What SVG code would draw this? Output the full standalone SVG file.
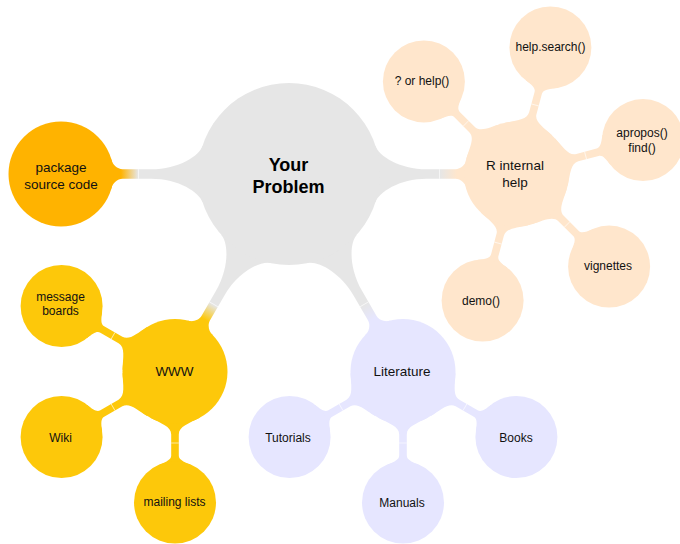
<svg xmlns="http://www.w3.org/2000/svg" xmlns:xlink="http://www.w3.org/1999/xlink" width="680" height="544" viewBox="0 0 680 544">
  <style>
    .t0 { font-family: "Liberation Sans", Arial, sans-serif; font-size: 18px; font-weight: bold; fill: #000; text-anchor: middle; }
    .t1 { font-family: "Liberation Sans", Arial, sans-serif; font-size: 13.5px; fill: #111; text-anchor: middle; }
    .t2 { font-family: "Liberation Sans", Arial, sans-serif; font-size: 12px; fill: #111; text-anchor: middle; }
    .seam { stroke: #fff; stroke-width: 0.7; stroke-opacity: 0.85; }
    .grey { fill: #E6E6E6; }
    .orange { fill: #FFB300; }
    .yellow { fill: #FDC80A; }
    .peach { fill: #FFE6CC; }
    .lav { fill: #E6E6FF; }
  </style>
  <defs>
    <!-- bar from the root (r=91) to a first-level node (r=52.5), drawn along +x -->
    <path id="bar1" d="M0 0 L86.55 -28.12 C89.6 -18.6 110 -4.8 138 -4.8 L166.5 -4.8 C171.5 -4.8 176.7 -9.4 177.53 -14.47 L228 0 L177.53 14.47 C176.7 9.4 171.5 4.8 166.5 4.8 L138 4.8 C110 4.8 89.6 18.6 86.55 28.12 Z"/>
    <!-- bar from a first-level node (r=52.5) to a leaf (r=41) -->
    <path id="bar2" d="M0 0 L46.35 -24.65 C51.98 -14.05 55 -3.8 63 -3.8 L84 -3.8 C88 -3.8 89.99 -7.94 92.99 -15.36 L131 0 L92.99 15.36 C89.99 7.94 88 3.8 84 3.8 L63 3.8 C55 3.8 51.98 14.05 46.35 24.65 Z"/>
    <linearGradient id="gOrange" gradientUnits="userSpaceOnUse" x1="151" y1="0" x2="168" y2="0">
      <stop offset="0" stop-color="#E6E6E6"/><stop offset="1" stop-color="#FFB300"/>
    </linearGradient>
    <linearGradient id="gPeach" gradientUnits="userSpaceOnUse" x1="151" y1="0" x2="168" y2="0">
      <stop offset="0" stop-color="#E6E6E6"/><stop offset="1" stop-color="#FFE6CC"/>
    </linearGradient>
    <linearGradient id="gYellow" gradientUnits="userSpaceOnUse" x1="151" y1="0" x2="168" y2="0">
      <stop offset="0" stop-color="#E6E6E6"/><stop offset="1" stop-color="#FDC80A"/>
    </linearGradient>
    <linearGradient id="gLav" gradientUnits="userSpaceOnUse" x1="151" y1="0" x2="168" y2="0">
      <stop offset="0" stop-color="#E6E6E6"/><stop offset="1" stop-color="#E6E6FF"/>
    </linearGradient>
  </defs>

  <g id="connectors">
    <!-- root to first level -->
    <g transform="translate(289 174) rotate(180)"><use xlink:href="#bar1" fill="url(#gOrange)"/><line class="seam" x1="150.5" y1="-4.8" x2="150.5" y2="4.8"/></g>
    <g transform="translate(289 174)"><use xlink:href="#bar1" fill="url(#gPeach)"/><line class="seam" x1="150.5" y1="-4.8" x2="150.5" y2="4.8"/></g>
    <g transform="translate(289 174) rotate(120)"><use xlink:href="#bar1" fill="url(#gYellow)"/><line class="seam" x1="150.5" y1="-4.8" x2="150.5" y2="4.8"/></g>
    <g transform="translate(289 174) rotate(60)"><use xlink:href="#bar1" fill="url(#gLav)"/><line class="seam" x1="150.5" y1="-4.8" x2="150.5" y2="4.8"/></g>
    <!-- R internal help to its leaves -->
    <g transform="translate(516.5 174) rotate(225)"><use xlink:href="#bar2" fill="#FFE6CC"/><line class="seam" x1="71.5" y1="-3.8" x2="71.5" y2="3.8"/></g>
    <g transform="translate(516.5 174) rotate(285)"><use xlink:href="#bar2" fill="#FFE6CC"/><line class="seam" x1="71.5" y1="-3.8" x2="71.5" y2="3.8"/></g>
    <g transform="translate(516.5 174) rotate(345)"><use xlink:href="#bar2" fill="#FFE6CC"/><line class="seam" x1="71.5" y1="-3.8" x2="71.5" y2="3.8"/></g>
    <g transform="translate(516.5 174) rotate(45)"><use xlink:href="#bar2" fill="#FFE6CC"/><line class="seam" x1="71.5" y1="-3.8" x2="71.5" y2="3.8"/></g>
    <g transform="translate(516.5 174) rotate(105)"><use xlink:href="#bar2" fill="#FFE6CC"/><line class="seam" x1="71.5" y1="-3.8" x2="71.5" y2="3.8"/></g>
    <!-- WWW to its leaves -->
    <g transform="translate(175 371.5) rotate(210)"><use xlink:href="#bar2" fill="#FDC80A"/><line class="seam" x1="71.5" y1="-3.8" x2="71.5" y2="3.8"/></g>
    <g transform="translate(175 371.5) rotate(150)"><use xlink:href="#bar2" fill="#FDC80A"/><line class="seam" x1="71.5" y1="-3.8" x2="71.5" y2="3.8"/></g>
    <g transform="translate(175 371.5) rotate(90)"><use xlink:href="#bar2" fill="#FDC80A"/><line class="seam" x1="71.5" y1="-3.8" x2="71.5" y2="3.8"/></g>
    <!-- Literature to its leaves -->
    <g transform="translate(403 371.5) rotate(150)"><use xlink:href="#bar2" fill="#E6E6FF"/><line class="seam" x1="71.5" y1="-3.8" x2="71.5" y2="3.8"/></g>
    <g transform="translate(403 371.5) rotate(90)"><use xlink:href="#bar2" fill="#E6E6FF"/><line class="seam" x1="71.5" y1="-3.8" x2="71.5" y2="3.8"/></g>
    <g transform="translate(403 371.5) rotate(30)"><use xlink:href="#bar2" fill="#E6E6FF"/><line class="seam" x1="71.5" y1="-3.8" x2="71.5" y2="3.8"/></g>
  </g>

  <g id="your-problem"><circle class="grey" cx="289" cy="174" r="91"/>
    <text class="t0" x="288.5" y="170.5">Your</text><text class="t0" x="288.5" y="193">Problem</text></g>

  <g id="package-source-code"><circle class="orange" cx="61" cy="174" r="52.5"/>
    <text class="t1" x="61" y="171.5">package</text><text class="t1" x="61" y="189">source code</text></g>

  <g id="r-internal-help"><circle class="peach" cx="516.5" cy="174" r="52.5"/>
    <text class="t1" x="515" y="169.5">R internal</text><text class="t1" x="515" y="187">help</text></g>
  <g id="help"><circle class="peach" cx="423.9" cy="81.4" r="41"/><text class="t2" x="422" y="85">? or help()</text></g>
  <g id="help-search"><circle class="peach" cx="550.4" cy="47.5" r="41"/><text class="t2" x="550.5" y="51">help.search()</text></g>
  <g id="apropos"><circle class="peach" cx="643" cy="140.1" r="41"/>
    <text class="t2" x="642" y="136.5">apropos()</text><text class="t2" x="642" y="151.5">find()</text></g>
  <g id="vignettes"><circle class="peach" cx="609.1" cy="266.6" r="41"/><text class="t2" x="608" y="270">vignettes</text></g>
  <g id="demo"><circle class="peach" cx="482.6" cy="300.5" r="41"/><text class="t2" x="481" y="304.5">demo()</text></g>

  <g id="www"><circle class="yellow" cx="175" cy="371.5" r="52.5"/><text class="t1" x="174.5" y="376">WWW</text></g>
  <g id="message-boards"><circle class="yellow" cx="61.6" cy="306" r="41"/>
    <text class="t2" x="60.5" y="300.5">message</text><text class="t2" x="60.5" y="315">boards</text></g>
  <g id="wiki"><circle class="yellow" cx="61.6" cy="437" r="41"/><text class="t2" x="60.5" y="441.5">Wiki</text></g>
  <g id="mailing-lists"><circle class="yellow" cx="175" cy="502.5" r="41"/><text class="t2" x="174.5" y="506">mailing lists</text></g>

  <g id="literature"><circle class="lav" cx="403" cy="371.5" r="52.5"/><text class="t1" x="402" y="376">Literature</text></g>
  <g id="tutorials"><circle class="lav" cx="289.6" cy="437" r="41"/><text class="t2" x="288" y="441.5">Tutorials</text></g>
  <g id="manuals"><circle class="lav" cx="403" cy="502.5" r="41"/><text class="t2" x="402" y="506.5">Manuals</text></g>
  <g id="books"><circle class="lav" cx="516.4" cy="437" r="41"/><text class="t2" x="516" y="441.5">Books</text></g>
</svg>
